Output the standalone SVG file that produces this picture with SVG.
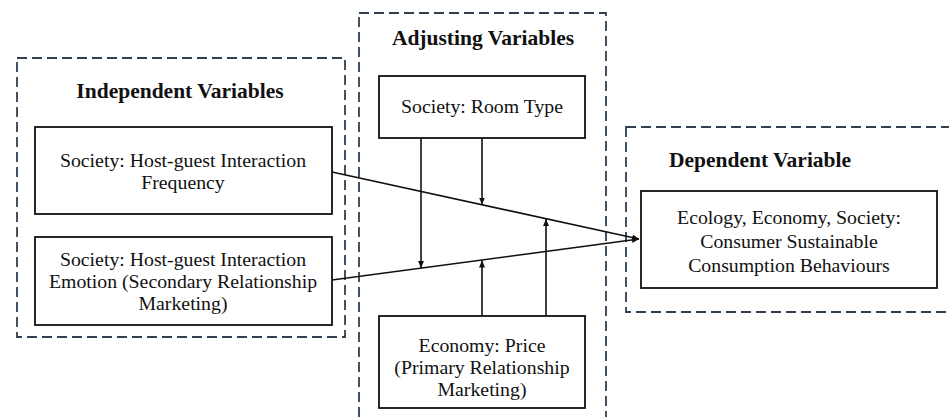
<svg xmlns="http://www.w3.org/2000/svg" width="949" height="417" viewBox="0 0 949 417">
<defs>
<style>
.grp{fill:none;stroke:#2f4050;stroke-width:1.8;stroke-dasharray:10 5}
.box{fill:#fff;stroke:#111;stroke-width:1.8}
.t{font-family:"Liberation Serif","Times New Roman",serif;font-size:19.8px;fill:#111;text-anchor:middle}
.h{font-family:"Liberation Serif","Times New Roman",serif;font-size:21.5px;font-weight:bold;fill:#111;text-anchor:middle}
.ln{stroke:#111;stroke-width:1.6;fill:none}
</style>
<marker id="ah" markerWidth="8" markerHeight="8" refX="7" refY="4" orient="auto" markerUnits="userSpaceOnUse">
<path d="M0,1 L7,4 L0,7 Z" fill="#111"/>
</marker>
</defs>
<rect width="949" height="417" fill="#fff"/>
<g id="independent-group">
<rect class="grp" x="17" y="58" width="328" height="279"/>
<text class="h" x="180" y="98">Independent Variables</text>
</g>
<g id="adjusting-group">
<rect class="grp" x="359" y="13" width="247" height="420"/>
<text class="h" x="483" y="45">Adjusting Variables</text>
</g>
<g id="dependent-group">
<rect class="grp" x="626" y="127" width="330" height="185"/>
<text class="h" x="760" y="167">Dependent Variable</text>
</g>
<g id="connectors">
<line class="ln" x1="332" y1="172" x2="639" y2="239" marker-end="url(#ah)"/>
<line class="ln" x1="332" y1="280" x2="639" y2="239" marker-end="url(#ah)"/>
<line class="ln" x1="421" y1="138" x2="421" y2="268" marker-end="url(#ah)"/>
<line class="ln" x1="482" y1="138" x2="482" y2="204.5" marker-end="url(#ah)"/>
<line class="ln" x1="482" y1="316" x2="482" y2="260.5" marker-end="url(#ah)"/>
<line class="ln" x1="546" y1="316" x2="546" y2="219" marker-end="url(#ah)"/>
</g>
<g id="frequency">
<rect class="box" x="35" y="127" width="297" height="87"/>
<text class="t" x="183" y="167">Society: Host-guest Interaction</text>
<text class="t" x="183" y="189">Frequency</text>
</g>
<g id="emotion">
<rect class="box" x="35" y="237" width="297" height="88"/>
<text class="t" x="183" y="266">Society: Host-guest Interaction</text>
<text class="t" x="183" y="288">Emotion (Secondary Relationship</text>
<text class="t" x="183" y="310">Marketing)</text>
</g>
<g id="room-type">
<rect class="box" x="379" y="76" width="206" height="62"/>
<text class="t" x="482" y="113">Society: Room Type</text>
</g>
<g id="price">
<rect class="box" x="379" y="316" width="206" height="92"/>
<text class="t" x="482" y="352">Economy: Price</text>
<text class="t" x="482" y="374">(Primary Relationship</text>
<text class="t" x="482" y="396">Marketing)</text>
</g>
<g id="behaviours">
<rect class="box" x="641" y="191" width="296" height="97"/>
<text class="t" x="789" y="224">Ecology, Economy, Society:</text>
<text class="t" x="789" y="248">Consumer Sustainable</text>
<text class="t" x="789" y="272">Consumption Behaviours</text>
</g>
</svg>
